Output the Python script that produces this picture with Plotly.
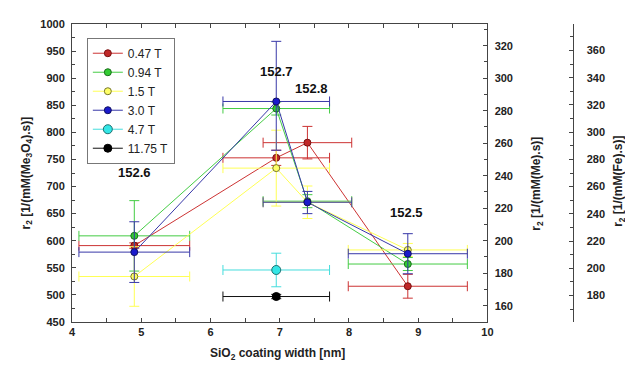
import plotly.graph_objects as go

# ---- data ----
widths = [4.9, 6.95, 7.4, 8.85]          # SiO2 coating width [nm]
width_err = [0.8, 0.77, 0.64, 0.86]
sample_labels = ["152.6", "152.7", "152.8", "152.5"]
label_x = [4.9, 6.95, 7.46, 8.83]
label_y = [726, 913, 881, 652]

r2_047 = [591, 753, 781, 516]
err_047 = [5, 14, 30, 22]
r2_094 = [609, 844, 673, 557]
err_094 = [65, 12, 12, 12]
r2_15 = [534, 734, 671, 583]
err_15 = [55, 70, 30, 12]
r2_30 = [579, 857, 671, 576]
err_30_plus = [56, 111, 20, 37]
err_30_minus = [56, 90, 21, 37]

width_high = [6.95]
width_high_err = [0.77]
r2_47 = [546]
err_47 = [31]
r2_1175 = [497]
err_1175 = [4]

FONT = "Liberation Sans, Arial, sans-serif"

series = [
    ("0.47 T", widths, width_err, r2_047, err_047, None, "#cc3333", "#c02828", "#7a1010", 7),
    ("0.94 T", widths, width_err, r2_094, err_094, None, "#44cc44", "#33cc33", "#1a6e1a", 7),
    ("1.5 T", widths, width_err, r2_15, err_15, None, "#ffff55", "#ffff66", "#77772a", 7),
    ("3.0 T", widths, width_err, r2_30, err_30_plus, err_30_minus, "#3838a8", "#1a1acc", "#101060", 7),
    ("4.7 T", width_high, width_high_err, r2_47, err_47, None, "#44dddd", "#33e6e6", "#207070", 9),
    ("11.75 T", width_high, width_high_err, r2_1175, err_1175, None, "#111111", "#000000", "#000000", 8),
]

fig = go.Figure()
for name, xs, xe, ys, ye, yem, lc, mc, mlc, ms in series:
    ey = dict(type="data", array=ye, color=lc, thickness=1, width=5, visible=True)
    if yem is not None:
        ey["symmetric"] = False
        ey["arrayminus"] = yem
    fig.add_trace(go.Scatter(
        x=xs, y=ys, name=name, mode="lines+markers",
        line=dict(color=lc, width=1),
        marker=dict(color=mc, size=ms, line=dict(color=mlc, width=1)),
        error_x=dict(type="data", array=xe, color=lc, thickness=1, width=5, visible=True),
        error_y=ey,
    ))

# empty traces to register the extra axes
fig.add_trace(go.Scatter(x=[], y=[], yaxis="y2", showlegend=False, hoverinfo="skip"))
fig.add_trace(go.Scatter(x=[], y=[], yaxis="y3", showlegend=False, hoverinfo="skip"))

OFF = 8  # browser default body margin
W, H = 633 - OFF, 367 - OFF
L, T, B, R = 72 - OFF, 18 - OFF, 45, 10
pw = W - L - R
ph = H - T - B
def px(x):  # page pixel -> paper
    return (x - OFF - L) / pw
def py(y):
    return (H - B - (y - OFF)) / ph

tickfont = dict(family=FONT, size=11, color="#222", weight="bold")
axcol = "#444"

for i, t in enumerate(sample_labels):
    fig.add_annotation(x=label_x[i], y=label_y[i], xref="x", yref="y", text=t,
                       showarrow=False, font=dict(family=FONT, size=13, color="#111", weight="bold"))

titles = [
    ("r<sub>2</sub> [1/(mM(Me<sub>3</sub>O<sub>4</sub>).s)]", 26, 170, -90),
    ("r<sub>2</sub> [1/(mM(Me).s)]", 542, 181, -90),
    ("r<sub>2</sub> [1/(mM(Fe).s)]", 625, 178, -90),
    ("SiO<sub>2</sub> coating width [nm]", 280, 355, 0),
]
for txt, xx, yy, ang in titles:
    fig.add_annotation(x=px(xx), y=py(yy), xref="paper", yref="paper", text=txt,
                       showarrow=False, textangle=ang, xanchor="center", yanchor="middle",
                       font=dict(family=FONT, size=12, color="#222", weight="bold"))

fig.update_layout(
    width=W, height=H,
    margin=dict(l=L, r=R, t=T, b=B),
    paper_bgcolor="white", plot_bgcolor="white",
    font=dict(family=FONT, size=11, color="#222"),
    showlegend=True,
    legend=dict(x=px(87), y=py(32), xanchor="left", yanchor="top",
                bordercolor="#777", borderwidth=1, bgcolor="white",
                font=dict(family=FONT, size=12, color="#222"), itemwidth=30,
                tracegroupgap=0),
    xaxis=dict(domain=[0, 420 / pw], range=[4, 10], tick0=4, dtick=1,
               ticks="inside", ticklen=4, tickcolor=axcol,
               minor=dict(dtick=0.5, ticks="inside", ticklen=4, tickcolor=axcol),
               showline=True, linecolor=axcol, mirror="ticks",
               showgrid=False, zeroline=False, tickfont=tickfont),
    yaxis=dict(range=[450, 1000], tick0=0, dtick=50,
               ticks="inside", ticklen=4, tickcolor=axcol,
               minor=dict(dtick=25, ticks="inside", ticklen=3, tickcolor=axcol),
               showline=True, linecolor=axcol, showgrid=False, zeroline=False,
               tickfont=tickfont, ticklabelstandoff=4),
    yaxis2=dict(overlaying="y", side="right", anchor="x", range=[150, 1000 / 3],
                tick0=0, dtick=20, ticks="inside", ticklen=4, tickcolor=axcol,
                minor=dict(dtick=10, ticks="inside", ticklen=3, tickcolor=axcol),
                showline=True, linecolor=axcol, showgrid=False, zeroline=False,
                tickfont=tickfont, ticklabelstandoff=4),
    yaxis3=dict(overlaying="y", side="right", anchor="free", position=px(579),
                range=[160.5, 379.5], tick0=0, dtick=20,
                ticks="inside", ticklen=4, tickcolor=axcol,
                minor=dict(dtick=10, ticks="inside", ticklen=3, tickcolor=axcol),
                showline=True, linecolor=axcol, showgrid=False, zeroline=False,
                tickfont=tickfont, ticklabelstandoff=10),
)

fig.write_html("out.html")
